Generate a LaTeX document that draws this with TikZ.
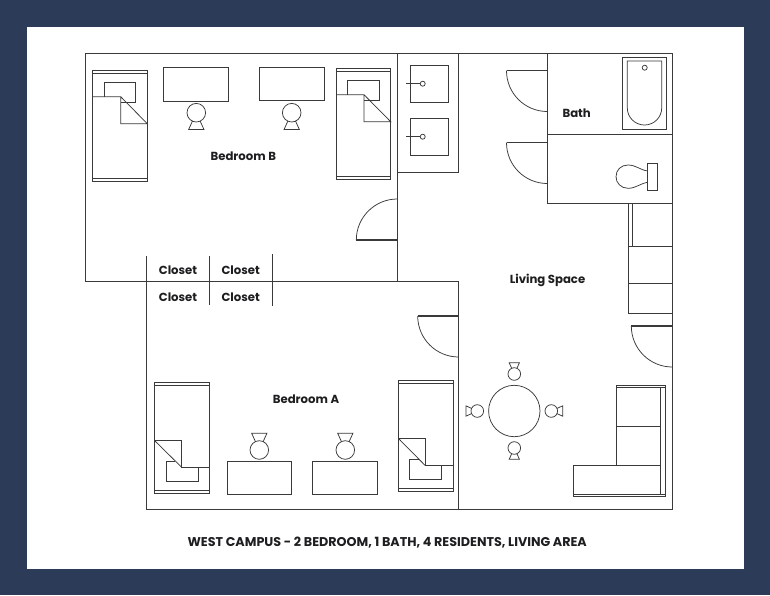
\documentclass[tikz,border=0pt]{standalone}
\usepackage{fontspec}
\setmainfont{Poppins}
\definecolor{navy}{HTML}{2C3B57}
\definecolor{wallc}{HTML}{3A3A3A}
\definecolor{ink}{HTML}{1E1E20}
\tikzset{
  wall/.style={draw=wallc,line width=0.9pt},
  thin line/.style={draw=wallc,line width=0.75pt},
  leaf/.style={draw=wallc,line width=1.3pt},
  label/.style={text=ink,font=\bfseries\fontsize{11.7}{13}\selectfont,inner sep=0pt},
  title/.style={text=ink,font=\bfseries\fontsize{12.7}{14}\selectfont,inner sep=0pt}
}
\newcommand{\bedtop}[9]{%
  \draw[thin line] (#1,#3) rectangle (#2,#4);
  \draw[thin line] (#1,#3+2.6) -- (#2,#3+2.6) (#1,#4-2.6) -- (#2,#4-2.6);
  \draw[thin line] (#5,#8) -- (#5,#7) -- (#6,#7) -- (#6,#7+20.4) -- (#9,#7+20.4);
  \draw[thin line] (#1,#8) -- (#9,#8) -- (#2,#8+27) -- (#9,#8+27) -- (#9,#8);
}
\newcommand{\bedbot}[9]{%
  \draw[thin line] (#1,#3) rectangle (#2,#4);
  \draw[thin line] (#1,#3+2.6) -- (#2,#3+2.6) (#1,#4-2.6) -- (#2,#4-2.6);
  \draw[thin line] (#5+9,#7) -- (#5,#7) -- (#5,#7+20.4) -- (#6,#7+20.4) -- (#6,#8);
  \draw[thin line] (#1,#8-27) -- (#9,#8-27) -- (#9,#8) -- (#2,#8);
  \draw[thin line] (#1,#8-27) -- (#9,#8);
}
\newcommand{\chairv}[4]{%
  \draw[thin line] (#1,#2) circle [radius=#3];
  \draw[thin line] (#1-0.4*#3,#2+#4*0.87*#3) -- (#1-0.82*#3,#2+#4*1.8*#3) -- (#1+0.82*#3,#2+#4*1.8*#3) -- (#1+0.4*#3,#2+#4*0.87*#3);
}
\newcommand{\chairh}[4]{%
  \draw[thin line] (#1,#2) circle [radius=#3];
  \draw[thin line] (#1+#4*0.87*#3,#2-0.4*#3) -- (#1+#4*1.8*#3,#2-0.82*#3) -- (#1+#4*1.8*#3,#2+0.82*#3) -- (#1+#4*0.87*#3,#2+0.4*#3);
}
\newcommand{\sink}[2]{%
  \draw[thin line] (410.3,#1) rectangle (448,#2);
  \draw[thin line] (406,#1+18.4) -- (420.2,#1+18.4);
  \draw[thin line] (422.7,#1+18.4) circle [radius=2.5];
}
% door: hinge x, leaf y, radius, direction of swing (+1 down, -1 up)
\newcommand{\door}[4]{%
  \draw[leaf] (#1-#3,#2) -- (#1,#2);
  \draw[thin line] (#1-#3,#2) .. controls (#1-#3,#2+#4*0.5523*#3) and (#1-0.5523*#3,#2+#4*#3) .. (#1,#2+#4*#3);
}
\begin{document}
\begin{tikzpicture}[x=1pt,y=-1pt]
\useasboundingbox (0,0) rectangle (770,595);
\fill[navy] (0,0) rectangle (770,595);
\fill[white] (26.5,26.5) rectangle (743.5,568.5);
% walls
\draw[wall] (397.3,53) -- (672.3,53) -- (672.3,509.5) -- (146.7,509.5) -- (146.7,256);
\draw[wall] (397.3,53) -- (85,53) -- (85,281.2) -- (458.7,281.2) -- (458.7,509.5);
\draw[wall] (397.3,53) -- (397.3,281.2);
\draw[wall] (209.3,256) -- (209.3,305) (272.3,254) -- (272.3,306);
% counter and sinks
\draw[wall] (397.3,172.7) -- (458.7,172.7) -- (458.7,53);
\sink{65.3}{102.3}
\sink{118.3}{155.7}
% bath block
\draw[wall] (547.3,53) -- (547.3,203) -- (672.3,203) (547.3,134.3) -- (672.3,134.3);
\draw[thin line] (622.7,57.3) rectangle (666.7,129.3);
\draw[thin line] (627.3,61) -- (661.7,61) -- (661.7,108) arc[start angle=0,end angle=180,x radius=17.2,y radius=17] -- cycle;
\draw[thin line] (644.7,67.7) circle [radius=2.5];
\draw[thin line] (647.7,163.3) rectangle (657.7,190.7);
\draw[thin line] (647.7,171) .. controls (640,170) and (636,165) .. (628,165) .. controls (621,165) and (616,170) .. (616,176.7) .. controls (616,183) and (621,188.3) .. (628,188.3) .. controls (636,188.3) and (640,183.5) .. (647.7,182.3);
% doors
\door{547.3}{70.7}{40.8}{1}
\door{547.3}{142.7}{40.8}{1}
\door{397.3}{240}{41}{-1}
\door{458.7}{316}{41}{1}
\door{672.3}{326}{41}{1}
% shelves
\draw[wall] (628.3,203) -- (628.3,313.7) -- (672.3,313.7) (628.3,246.7) -- (672.3,246.7) (628.3,283) -- (672.3,283);
\draw[thin line] (632,203) -- (632,246.7);
% bedroom B furniture
\bedtop{92.5}{147.3}{70.7}{181.3}{104}{135.7}{82.3}{96.7}{120.7}
\bedtop{336}{390.7}{68.3}{179.3}{347.3}{379}{80.3}{94.7}{364}
\draw[thin line] (163.7,67.7) rectangle (228.7,101);
\draw[thin line] (259.3,67) rectangle (324.3,100.3);
\chairv{196.3}{112.7}{9.3}{1}
\chairv{291.7}{112.7}{9.3}{1}
% bedroom A furniture
\bedbot{154.3}{209.7}{382.7}{493.3}{166.3}{198.3}{461.3}{467.3}{181.7}
\bedbot{398.3}{453}{380.7}{491.3}{409.7}{441.7}{459.3}{465.3}{425}
\draw[thin line] (227,461.3) rectangle (291.7,494.7);
\draw[thin line] (312.7,461.3) rectangle (377.7,494.7);
\chairv{259.3}{450}{9.3}{-1}
\chairv{345.3}{450}{9.3}{-1}
% table
\draw[thin line] (514.3,411) circle [radius=25.7];
\chairv{514.3}{374}{6.3}{-1}
\chairv{514.3}{448}{6.3}{1}
\chairh{477.3}{411}{6.3}{-1}
\chairh{551.3}{411}{6.3}{1}
% sofa
\draw[thin line] (616.7,465) -- (616.7,385.3) -- (665.7,385.3) -- (665.7,496) -- (573.3,496) -- (573.3,465) -- (660.3,465);
\draw[thin line] (616.7,387.6) -- (665.7,387.6);
\draw[thin line] (660.3,387.6) -- (660.3,494) (573.3,494) -- (665.7,494);
\draw[thin line] (616.7,426) -- (660.3,426);
% labels
\node[label] (lbb) at (243.3,156.4) {Bedroom B};
\node[label] (lba) at (306,399.4) {Bedroom A};
\node[label] (lbath) at (576.7,113.4) {Bath};
\node[label] (lliv) at (547.5,280.4) {Living Space};
\node[label] (c1) at (178,269.9) {Closet};
\node[label] (c2) at (240.7,269.9) {Closet};
\node[label] (c3) at (178,297.6) {Closet};
\node[label] (c4) at (240.7,297.6) {Closet};
\node[title] (cap) at (387.2,542.2) {WEST CAMPUS - 2 BEDROOM, 1 BATH, 4 RESIDENTS, LIVING AREA};
\end{tikzpicture}
\end{document}
